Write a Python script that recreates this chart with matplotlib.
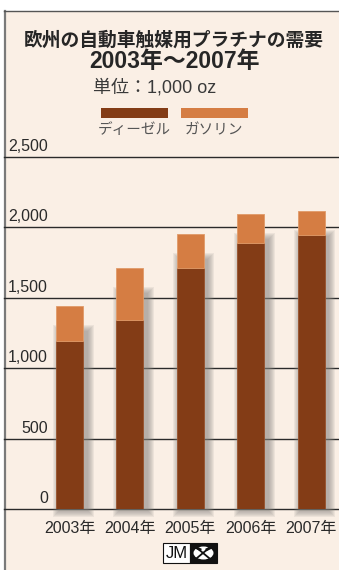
import matplotlib
matplotlib.use("Agg")
import matplotlib.pyplot as plt
from matplotlib.patches import Rectangle, Ellipse
from matplotlib.lines import Line2D

# Data (thousand troy ounces)
years = ["2003年", "2004年", "2005年", "2006年", "2007年"]
diesel = [1190, 1340, 1710, 1890, 1945]
gasoline = [255, 375, 240, 205, 170]
y_ticks = [0, 500, 1000, 1500, 2000, 2500]
y_tick_labels = ["0", "500", "1,000", "1,500", "2,000", "2,500"]

title_1 = "欧州の自動車触媒用プラチナの需要"
title_2 = "2003年～2007年"
unit_text = "単位：1,000 oz"
series_names = ["ディーゼル", "ガソリン"]

DIESEL_C = "#833c16"
GAS_C = "#d57d43"
BG = "#faefe5"
FONT = ["Liberation Sans", "Noto Sans CJK JP", "DejaVu Sans"]
plt.rcParams["font.family"] = FONT

W, H = 339, 570
fig = plt.figure(figsize=(W / 100, H / 100), dpi=100)
fig.patch.set_facecolor("white")


def fx(x):
    return x / W


def fy(y):
    return 1 - y / H


# cream panel with grey border on left and top
fig.patches.append(Rectangle((fx(4), 0), 1 - fx(4), fy(11), transform=fig.transFigure,
                             facecolor=BG, edgecolor="none", zorder=-5))
fig.add_artist(Line2D([fx(4.5), fx(4.5)], [0, fy(11)], color="#7a7a7a", lw=1.6,
                      transform=fig.transFigure, zorder=-4))
fig.add_artist(Line2D([fx(4), 1], [fy(11), fy(11)], color="#555555", lw=1.0,
                      transform=fig.transFigure, zorder=-4))

# titles
fig.text(fx(174), fy(40), title_1, ha="center", va="center", fontsize=13.5,
         fontweight="bold", color="#262626")
fig.text(fx(174), fy(61), title_2, ha="center", va="center", fontsize=16.5,
         fontweight="bold", color="#262626")
fig.text(fx(155), fy(88), unit_text, ha="center", va="center", fontsize=13,
         color="#3a3a3a")

# legend
for (x0, x1, cx), c, name in zip([(101, 168, 134), (181, 248, 214)], [DIESEL_C, GAS_C],
                                 series_names):
    fig.patches.append(Rectangle((fx(x0), fy(118)), fx(x1) - fx(x0), fy(108) - fy(118),
                                 transform=fig.transFigure, facecolor=c, edgecolor="none"))
    fig.text(fx(cx), fy(130), name, ha="center", va="center", fontsize=10.5,
             color="#555555")

# plot area: y=0 at px 509, y=2500 at px 157
ax_left, ax_right = 4, 339
y0_px, ytop_px = 509, 157
ax = fig.add_axes([fx(ax_left), fy(y0_px), fx(ax_right) - fx(ax_left),
                   fy(ytop_px) - fy(y0_px)])
ax.set_facecolor("none")
for s in ax.spines.values():
    s.set_visible(False)
ax.set_xticks([])
ax.set_yticks([])

bar_c0, bar_step = 69.5, 60.4
xmin = (ax_left - bar_c0) / bar_step
xmax = (ax_right - bar_c0) / bar_step
ax.set_xlim(xmin, xmax)
ax.set_ylim(0, 2500)

px_x = 1 / bar_step
px_y = 2500 / (y0_px - ytop_px)

for t in y_ticks:
    ax.axhline(t, color="#2a2a2a", lw=1.0, zorder=1, clip_on=False)

width = 27 / bar_step
xs = list(range(len(years)))

# soft drop shadow behind each bar, laid over the grid lines
for x, d, g in zip(xs, diesel, gasoline):
    top = d + g
    n = 7
    for k in range(n):
        grow = (n - k) * 1.0
        left = x - width / 2 + 3.5 * px_x - grow * px_x
        bottom = -1 * px_y - grow * px_y
        ax.add_patch(Rectangle((left, bottom),
                               width + 2 * grow * px_x,
                               top - 26 * px_y - bottom + grow * px_y,
                               facecolor="#8c8884", edgecolor="none", alpha=0.12,
                               zorder=2, clip_on=False))

ax.bar(xs, diesel, width=width, color=DIESEL_C, edgecolor="#98522c", lw=0.6, zorder=3)
ax.bar(xs, gasoline, bottom=diesel, width=width, color=GAS_C, edgecolor="#e09a68",
       lw=0.6, zorder=3)

# y tick labels sit just above their grid lines
for t, lab in zip(y_ticks, y_tick_labels):
    ax.text((48 - bar_c0) / bar_step, t + 3 * px_y, lab, ha="right", va="bottom",
            fontsize=11.5, color="#2a2a2a", clip_on=False)

# year labels
for x, lab in zip(xs, years):
    ax.text(x, -19 * px_y, lab, ha="center", va="center", fontsize=11.5,
            color="#2a2a2a", clip_on=False)

# JM logo
fig.patches.append(Rectangle((fx(163), fy(563)), fx(190) - fx(163), fy(543) - fy(563),
                             transform=fig.transFigure, facecolor="white",
                             edgecolor="#111111", lw=0.8))
fig.patches.append(Rectangle((fx(190), fy(563)), fx(217) - fx(190), fy(543) - fy(563),
                             transform=fig.transFigure, facecolor="#111111",
                             edgecolor="#111111", lw=0.8))
fig.text(fx(176.5), fy(553.5), "JM", ha="center", va="center", fontsize=12,
         color="#111111")
fig.patches.append(Ellipse((fx(203.5), fy(553)), fx(20), fy(0) - fy(13),
                           transform=fig.transFigure, facecolor="white",
                           edgecolor="none"))
for (xa, ya, xb, yb) in [(197, 548, 209, 558), (209, 548, 197, 558)]:
    fig.add_artist(Line2D([fx(xa), fx(xb)], [fy(ya), fy(yb)], color="#111111", lw=1.3,
                          transform=fig.transFigure))
for (xa, ya, xb, yb) in [(195, 547, 200, 549.5), (207, 549.5, 212, 547)]:
    fig.add_artist(Line2D([fx(xa), fx(xb)], [fy(ya), fy(yb)], color="#111111", lw=2.0,
                          transform=fig.transFigure))

fig.savefig("out.png", dpi=100)
